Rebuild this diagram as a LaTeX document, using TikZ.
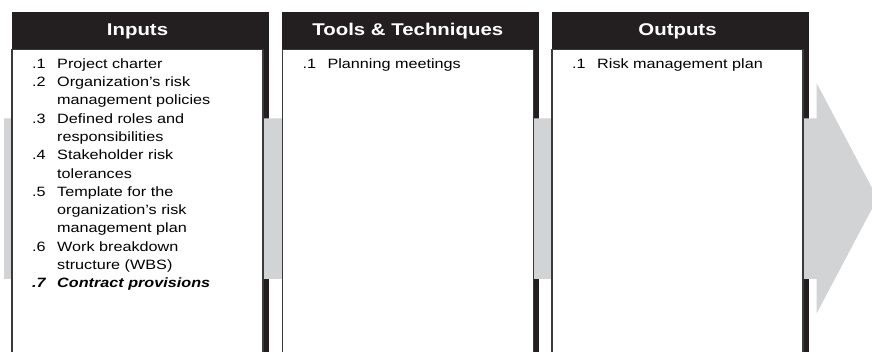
\documentclass[tikz,border=0pt]{standalone}
\usepackage{fontspec}
\usepackage{array}
\setmainfont[FakeStretch=1.2]{Liberation Sans}
\definecolor{hdrblack}{HTML}{231F20}
\definecolor{arrowgray}{HTML}{D1D3D4}
\definecolor{boxline}{HTML}{3A3A3C}
\begin{document}
\begin{tikzpicture}[x=1pt,y=-1pt,
  hdrfill/.style={fill=hdrblack},
  wbox/.style={fill=white,draw=boxline,line width=1.2pt},
  titletext/.style={text=white,inner sep=0pt,anchor=center,font=\fontsize{17}{20}\selectfont\bfseries},
  bodytext/.style={inner sep=0pt,anchor=base west,font=\fontsize{13.5}{18.3}\selectfont}]
\useasboundingbox (0,0) rectangle (872,352);
% headers and shadow strips
\foreach \L in {12,282.3,552}{
  \fill[hdrfill] (\L,12) rectangle (\L+257,49.3);
  \fill[hdrfill] (\L+251,12) rectangle (\L+257,362);
}
% background arrow
\fill[arrowgray] (4,118.3) -- (816.7,118.3) -- (816.7,83.3) -- (877.5,198.3)
  -- (816.7,313.3) -- (816.7,279) -- (4,279) -- cycle;
% white boxes
\foreach \L in {12,282.3,552}{
  \draw[wbox] (\L,49.3) rectangle (\L+251,364);
}
% titles
\node[titletext] (t1) at (137.5,31) {Inputs};
\node[titletext] (t2) at (407.8,31) {Tools \& Techniques};
\node[titletext] (t3) at (677.5,31) {Outputs};
% bodies
\node[bodytext] (b1) at (32,68.3) {\begin{tabular}[t]{@{}w{l}{25pt}@{}l@{}}
.1 & Project charter\\
.2 & Organization’s risk\\
   & management policies\\
.3 & Defined roles and\\
   & responsibilities\\
.4 & Stakeholder risk\\
   & tolerances\\
.5 & Template for the\\
   & organization’s risk\\
   & management plan\\
.6 & Work breakdown\\
   & structure (WBS)\\
\textbf{\itshape .7} & \textbf{\itshape Contract provisions}
\end{tabular}};
\node[bodytext] (b2) at (302.3,68.3) {\begin{tabular}[t]{@{}w{l}{25pt}@{}l@{}}
.1 & Planning meetings
\end{tabular}};
\node[bodytext] (b3) at (572,68.3) {\begin{tabular}[t]{@{}w{l}{25pt}@{}l@{}}
.1 & Risk management plan
\end{tabular}};
\end{tikzpicture}
\end{document}
